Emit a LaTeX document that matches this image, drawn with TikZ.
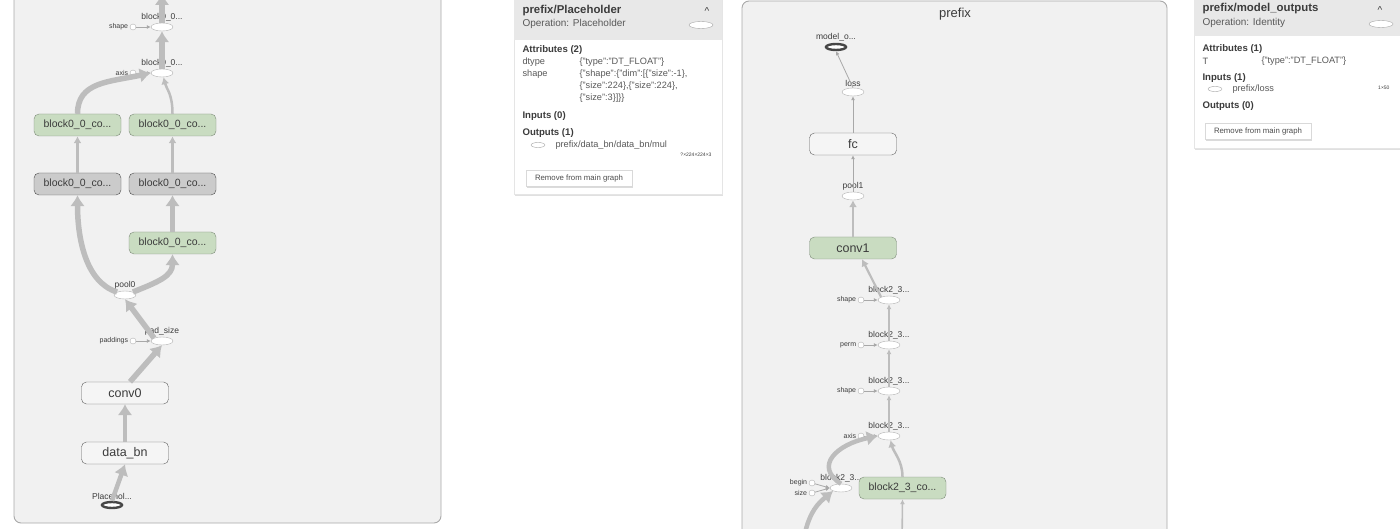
\documentclass[tikz,border=0pt]{standalone}
\usepackage{fontspec}
\setmainfont{Liberation Sans}
\definecolor{graphbg}{HTML}{F1F1F1}
\definecolor{panelline}{HTML}{A9A9A9}
\definecolor{metagreen}{HTML}{C9DCC1}
\definecolor{greenedge}{HTML}{7E8C7A}
\definecolor{dotgray}{HTML}{CBCBCB}
\definecolor{edgegray}{HTML}{BDBDBD}
\definecolor{thingray}{HTML}{A8A8A8}
\definecolor{inkgray}{HTML}{3C3C3C}
\definecolor{cardhead}{HTML}{E8E8E8}
\usepackage{tikz}
\usetikzlibrary{shapes.geometric,arrows.meta,positioning}

\begin{document}
\begin{tikzpicture}[x=1pt, y=-1pt,
    panel/.style={draw=panelline, fill=graphbg, rounded corners=7pt, line width=0.9pt},
    box/.style={draw=gray!75!black, rounded corners=5pt, minimum width=87pt,
                minimum height=22pt, inner sep=0pt, text=inkgray},
    meta/.style={box, fill=white!96!black, font=\fontsize{12.5}{14}\selectfont},
    grp/.style={box, fill=metagreen, draw=greenedge, font=\fontsize{10.5}{12}\selectfont},
    grpbig/.style={grp, font=\fontsize{12.5}{14}\selectfont},
    dots/.style={box, fill=dotgray, draw=gray!60!black, font=\fontsize{10.5}{12}\selectfont},
    op/.style={ellipse, draw=gray!60, fill=white, minimum width=22pt,
               minimum height=8pt, inner sep=0pt,
               label={[lbl, inner sep=1.5pt]above:#1}},
    io/.style={op=#1, draw=gray!55!black, line width=2.4pt, minimum width=20pt, minimum height=6pt},
    cst/.style={circle, draw=gray!60, fill=white, minimum size=6pt, inner sep=0pt,
                label={[tinylbl, inner sep=1.5pt]left:#1}},
    lbl/.style={font=\fontsize{8.5}{9}\selectfont, text=inkgray},
    tinylbl/.style={font=\fontsize{7}{8}\selectfont, text=inkgray},
    ethin/.style={draw=thingray, line width=0.8pt, -{Latex[length=4pt,width=4pt]}},
    emid/.style={draw=edgegray, line width=2.5pt, -{Latex[length=7pt,width=8pt]}},
    efat/.style={draw=edgegray, line width=5.5pt, -{Latex[length=11pt,width=15pt]}},
    card/.style={fill=white, draw=black!10},
    head/.style={anchor=west, font=\bfseries\fontsize{11.4}{13}\selectfont, text=inkgray},
    sub/.style={anchor=west, font=\fontsize{10}{12}\selectfont, text=black!65},
    sect/.style={anchor=west, font=\bfseries\fontsize{9.6}{11}\selectfont, text=inkgray},
    txt/.style={anchor=west, font=\fontsize{9.2}{11}\selectfont, text=black!65},
    shapebtn/.style={draw=black!15, fill=white, minimum width=106pt, minimum height=16pt,
                inner sep=0pt, font=\fontsize{7.8}{9}\selectfont, text=black!70},
    mini/.style={ellipse, draw=gray!70, fill=white, minimum width=14pt, minimum height=5pt, inner sep=0pt}
  ]
    \useasboundingbox (0,0) rectangle (1400,529);
    \clip (0,0) rectangle (1400,529);

    % left graph
    \draw[panel] (14,-20) rectangle (441,523);

    \node[op=block0\_0...]  (e1)  at (162,27)  {};
    \node[op=block0\_0...]  (e2)  at (162,73)  {};
    \node[cst=shape]        (c1)  at (133,27)  {};
    \node[cst=axis]         (c2)  at (133,73)  {};
    \coordinate             (top) at (162,-6);

    \node[grp]   (lg1)   at (77.5,125)  {block0\_0\_co...};
    \node[grp]   (rg1)   at (172.5,125) {block0\_0\_co...};
    \node[dots]  (lgray) at (77.5,184)  {block0\_0\_co...};
    \node[dots]  (rgray) at (172.5,184) {block0\_0\_co...};
    \node[grp]   (rg2)   at (172.5,243) {block0\_0\_co...};

    \node[op=pool0]         (pool0) at (125,295) {};
    \node[op=pad\_size]     (pad)   at (162,341) {};
    \node[cst=paddings]     (c3)    at (133,341) {};
    \node[meta]  (conv0)  at (125,393) {conv0};
    \node[meta]  (databn) at (125,453) {data\_bn};
    \node[io=Placehol...]   (ph)    at (112,505) {};

    \draw[efat]  (e1.north) -- (top);
    \draw[efat]  (e2.north) -- (e1.south);
    \draw[ethin] (c1) -- (e1.west);
    \draw[ethin] (c2) -- (e2.west);
    \draw[efat]  (lg1.north) .. controls +(0,-32) and +(-42,9) .. (e2.west);
    \draw[emid]  (rg1.north) .. controls +(0,-20) and +(3,12) .. (e2.-70);
    \draw[emid, line width=2.2pt]  (lgray.north) -- (lg1.south);
    \draw[emid, line width=2.2pt]  (rgray.north) -- (rg1.south);
    \draw[efat]  (rg2.north) -- (rgray.south);
    \draw[efat]  (pool0.north west) .. controls +(-32,-10) and +(0,42) .. (lgray.south);
    \draw[efat]  (pool0.north east) .. controls +(25,-10) and +(0,22) .. (rg2.south);
    \draw[ethin] (c3) -- (pad.west);
    \draw[efat]  (pad.north west) -- (pool0.south);
    \draw[efat]  (conv0.north) ++(5,0) -- (pad.south);
    \draw[efat, line width=4.5pt]  (databn.north) -- (conv0.south);
    \draw[efat, line width=4.5pt]  (ph.north) -- (databn.south);

    % node card
    \fill[black!12] (515,-2) rectangle (723,196);
    \draw[card] (514,-2) rectangle (722,194);
    \fill[cardhead] (514,-2) rectangle (722,40);
    \node[head] (t1)  at (519,11) {prefix/Placeholder};
    \node[sub]  (o1)  at (519,24) {Operation: Placeholder};
    \node[text=inkgray, font=\fontsize{10}{10}\selectfont] (up1) at (707,11) {\textasciicircum};
    \node[mini, minimum width=24pt, minimum height=7pt] (s1) at (701,25) {};
    \node[sect] (a1)  at (519,50)  {Attributes (2)};
    \node[txt]  (k1)  at (519,62)  {dtype};
    \node[txt]  (v1)  at (576,62)  {\{"type":"DT\_FLOAT"\}};
    \node[txt]  (k2)  at (519,74)  {shape};
    \node[txt]  (v2)  at (576,74)  {\{"shape":\{"dim":[\{"size":-1\},};
    \node[txt]  (v3)  at (576,86)  {\{"size":224\},\{"size":224\},};
    \node[txt]  (v4)  at (576,98)  {\{"size":3\}]\}\}};
    \node[sect] (i1)  at (519,116) {Inputs (0)};
    \node[sect] (u1)  at (519,133) {Outputs (1)};
    \node[mini] (m1)  at (538,145) {};
    \node[txt]  (n1)  at (552,145) {prefix/data\_bn/data\_bn/mul};
    \node[tinylbl, font=\fontsize{5}{6}\selectfont, anchor=east] (d1) at (715,155) {?×224×224×3};
    \fill[black!14] (527,172) rectangle (633,188);
    \node[shapebtn] (b1) at (579,178.5) {Remove from main graph};

    % prefix graph
    \draw[panel] (742,1) rectangle (1167,620);
    \node[text=inkgray, font=\fontsize{13}{15}\selectfont] (title) at (955,14) {prefix};

    \node[io=model\_o...] (mo)    at (836,47)  {};
    \node[op=loss]        (loss)  at (853,92)  {};
    \node[meta]           (fc)    at (853,144) {fc};
    \node[op=pool1]       (pool1) at (853,196) {};
    \node[grpbig]         (conv1) at (853,248) {conv1};

    \node[op=block2\_3...] (r1) at (889,300) {};
    \node[op=block2\_3...] (r2) at (889,345) {};
    \node[op=block2\_3...] (r3) at (889,391) {};
    \node[op=block2\_3...] (r4) at (889,436) {};
    \node[cst=shape] (k5) at (861,300) {};
    \node[cst=perm]  (k6) at (861,345) {};
    \node[cst=shape] (k7) at (861,391) {};
    \node[cst=axis]  (k8) at (861,436) {};

    \node[op=block2\_3...] (slc) at (841,488) {};
    \node[cst=begin] (k9)  at (812,483) {};
    \node[cst=size]  (k10) at (812,493) {};
    \node[grp]  (g23) at (902.5,488) {block2\_3\_co...};
    \coordinate (bot1) at (803,545);
    \coordinate (bot2) at (902,545);

    \draw[ethin] (loss.north) -- (mo.south);
    \draw[ethin] (fc.north) -- (loss.south);
    \draw[ethin] (pool1.north) -- (fc.south);
    \draw[emid, line width=2.2pt]  (conv1.north) -- (pool1.south);
    \draw[emid, line width=2.2pt]  (r1.north west) -- ([xshift=9pt]conv1.south);
    \draw[emid, line width=1.8pt, -{Latex[length=5pt,width=5pt]}] (r2.north) -- (r1.south);
    \draw[emid, line width=1.8pt, -{Latex[length=5pt,width=5pt]}] (r3.north) -- (r2.south);
    \draw[emid, line width=1.8pt, -{Latex[length=5pt,width=5pt]}] (r4.north) -- (r3.south);
    \draw[ethin] (k5) -- (r1.west);
    \draw[ethin] (k6) -- (r2.west);
    \draw[ethin] (k7) -- (r3.west);
    \draw[ethin] (k8) -- (r4.west);
    \draw[ethin] (k9) -- (slc.west);
    \draw[ethin] (k10) -- (slc.west);
    \draw[efat, line width=4.5pt]  (slc.north) .. controls +(-28,-18) and +(-40,8) .. (r4.west);
    \draw[emid]  (g23.north) .. controls +(0,-16) and +(3,12) .. (r4.-70);
    \draw[emid, line width=1.6pt, -{Latex[length=5pt,width=5pt]}] (bot2) -- (g23.south);
    \draw[efat, line width=4.5pt]  (bot1) .. controls +(4,-34) and +(-12,10) .. (slc.south west);

    % output card
    \fill[black!12] (1195,-2) rectangle (1402,150);
    \draw[card] (1194,-2) rectangle (1402,148);
    \fill[cardhead] (1194,-2) rectangle (1402,36);
    \node[head] (t2)  at (1199,9)  {prefix/model\_outputs};
    \node[sub]  (o2)  at (1199,23) {Operation: Identity};
    \node[text=inkgray, font=\fontsize{10}{10}\selectfont] (up2) at (1380,10) {\textasciicircum};
    \node[mini, minimum width=24pt, minimum height=7pt] (s2) at (1381,24) {};
    \node[sect] (a2)  at (1199,49)  {Attributes (1)};
    \node[txt]  (k3)  at (1199,61)  {T};
    \node[txt]  (v5)  at (1258,61)  {\{"type":"DT\_FLOAT"\}};
    \node[sect] (i2)  at (1199,78)  {Inputs (1)};
    \node[mini] (m2)  at (1215,89)  {};
    \node[txt]  (n2)  at (1229,89)  {prefix/loss};
    \node[tinylbl, font=\fontsize{5}{6}\selectfont, anchor=east] (d2) at (1393,88) {1×50};
    \node[sect] (u2)  at (1199,106) {Outputs (0)};
    \fill[black!14] (1206,125) rectangle (1312,141);
    \node[shapebtn] (b2) at (1258,131.5) {Remove from main graph};
  \end{tikzpicture}
\end{document}
